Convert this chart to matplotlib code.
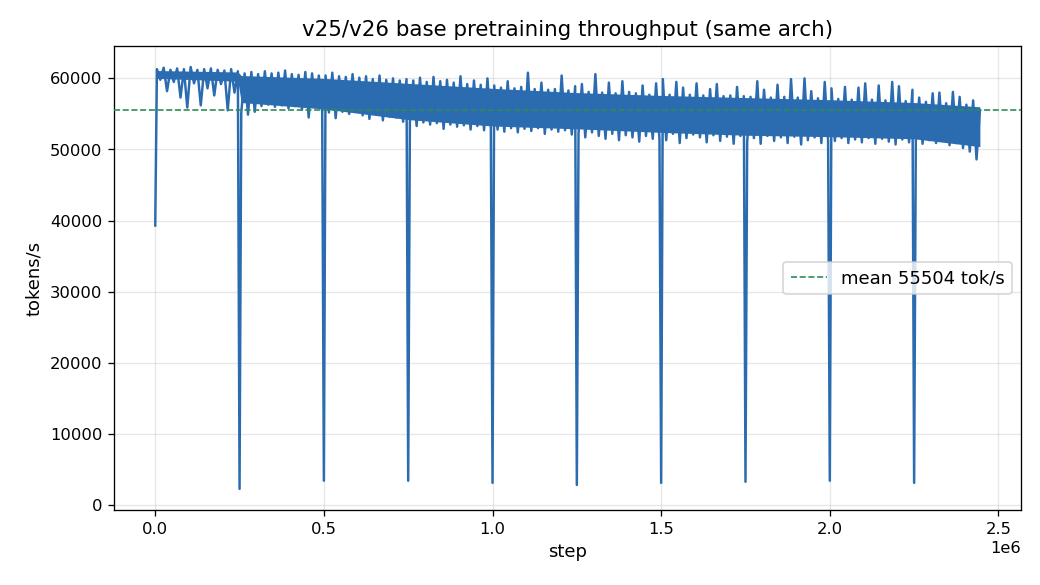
import numpy as np
import matplotlib
matplotlib.use("Agg")
import matplotlib.pyplot as plt

# throughput samples, one every 10k steps starting at step 5000
# (even index = top of a stroke, odd index = bottom of a stroke)
tput = [
    # 0 .. 0.25M
    61300, 59800, 61500, 58200, 61200, 59500, 61400, 57300, 61300, 55900,
    61600, 59300, 61200, 56200, 61300, 58600, 61400, 57600, 61200, 59200,
    61100, 55500, 61300, 58000, 61000,
    # 0.25M .. 0.5M
    55100, 60700, 54900, 60900, 55300, 60600, 56100, 61000, 56300, 60700,
    56000, 60800, 56200, 61100, 55800, 60600, 56100, 60500, 55600, 60900,
    54500, 60700, 55900, 60400, 55400,
    # 0.5M .. 0.75M
    60400, 55200, 60800, 54400, 60300, 55300, 60200, 55000, 60600, 55400,
    60100, 54800, 60300, 54300, 59900, 54900, 60400, 54100, 59800, 54600,
    60000, 54500, 59700, 53900, 59900,
    # 0.75M .. 1.0M
    53900, 59700, 53300, 60100, 53800, 59500, 53500, 60200, 53700, 59600,
    52900, 59800, 53500, 59400, 53200, 60300, 53400, 59200, 52800, 59700,
    53300, 59100, 52700, 60000, 53000,
    # 1.0M .. 1.25M
    59000, 52800, 58700, 52500, 59600, 53000, 58600, 52400, 58800, 52900,
    60800, 52600, 58500, 53000, 59400, 52200, 58400, 52800, 58500, 52500,
    60400, 52700, 58300, 52100, 58900,
    # 1.25M .. 1.5M
    52300, 59200, 51700, 58100, 52400, 60600, 51900, 58000, 51500, 59400,
    52200, 57900, 51300, 59600, 52000, 58100, 51700, 57900, 51100, 59000,
    51900, 57700, 51500, 59300, 51400,
    # 1.5M .. 1.75M
    59900, 51300, 57700, 52200, 59500, 50900, 58700, 51600, 57700, 52100,
    59300, 51700, 57600, 51000, 58500, 52000, 59200, 51200, 57500, 51800,
    57600, 50800, 58800, 51900, 57500,
    # 1.75M .. 2.0M
    51100, 57400, 51600, 59600, 50800, 58400, 51900, 57300, 51200, 59100,
    51700, 57400, 50900, 59900, 51800, 57300, 50700, 60000, 51300, 58200,
    51700, 57200, 50900, 59500, 51200,
    # 2.0M .. 2.25M
    58600, 51200, 57100, 51600, 58800, 50900, 57000, 51400, 58700, 51000,
    59300, 51600, 57000, 50800, 59000, 51500, 56900, 51100, 59500, 50700,
    58900, 51400, 56800, 51000, 58400,
    # 2.25M .. end
    51200, 57300, 50800, 56700, 51300, 57900, 50900, 58000, 51200, 56500,
    50600, 58100, 50900, 57400, 50200, 56300, 49700, 56900, 48600, 55500,
]
steps = 5000 + 10000 * np.arange(len(tput))

start_step = 0
start_tput = 39300

# checkpoint dips every 250k steps
dip_steps = [250000, 500000, 750000, 1000000, 1250000, 1500000, 1750000, 2000000, 2250000]
dip_tput = [2250, 3400, 3400, 3100, 2800, 3100, 3250, 3400, 3100]

# solid middle of the noisy band
core_steps = [5000, 245000, 255000, 500000, 750000, 1000000, 1250000,
              1500000, 1750000, 2000000, 2250000, 2445000]
core_top = [61100, 60900, 60400, 60000, 59300, 58600, 58000, 57600, 57300, 57000, 56600, 56000]
core_bot = [60000, 59600, 56600, 55700, 54200, 53300, 52900, 52400, 52000, 51800, 51500, 50400]

mean_tput = 55504

# merge everything into one series ordered by step
x_all = np.concatenate([[start_step], steps, dip_steps])
y_all = np.concatenate([[start_tput], tput, dip_tput])
order = np.argsort(x_all, kind="stable")
x_all = x_all[order]
y_all = y_all[order]

blue = "#2b6cb0"

fig = plt.figure(figsize=(8.8, 4.95), dpi=118.2)
ax = fig.add_subplot(111)
fig.subplots_adjust(left=0.1096, right=0.9817, bottom=0.1282, top=0.9214)

ax.fill_between(core_steps, core_bot, core_top, color=blue, lw=0, zorder=2)
ax.plot(x_all, y_all, color=blue, lw=1.5, zorder=3)
ax.axhline(mean_tput, color="#2e8b57", ls="--", lw=1, zorder=4,
           label=f"mean {mean_tput} tok/s")

ax.grid(True, alpha=0.3)
ax.set_title("v25/v26 base pretraining throughput (same arch)", fontsize=13)
ax.set_xlabel("step", fontsize=11)
ax.set_ylabel("tokens/s", fontsize=11)
ax.legend(loc="center right", fontsize=11)

fig.savefig("out.png", dpi=118.2)
